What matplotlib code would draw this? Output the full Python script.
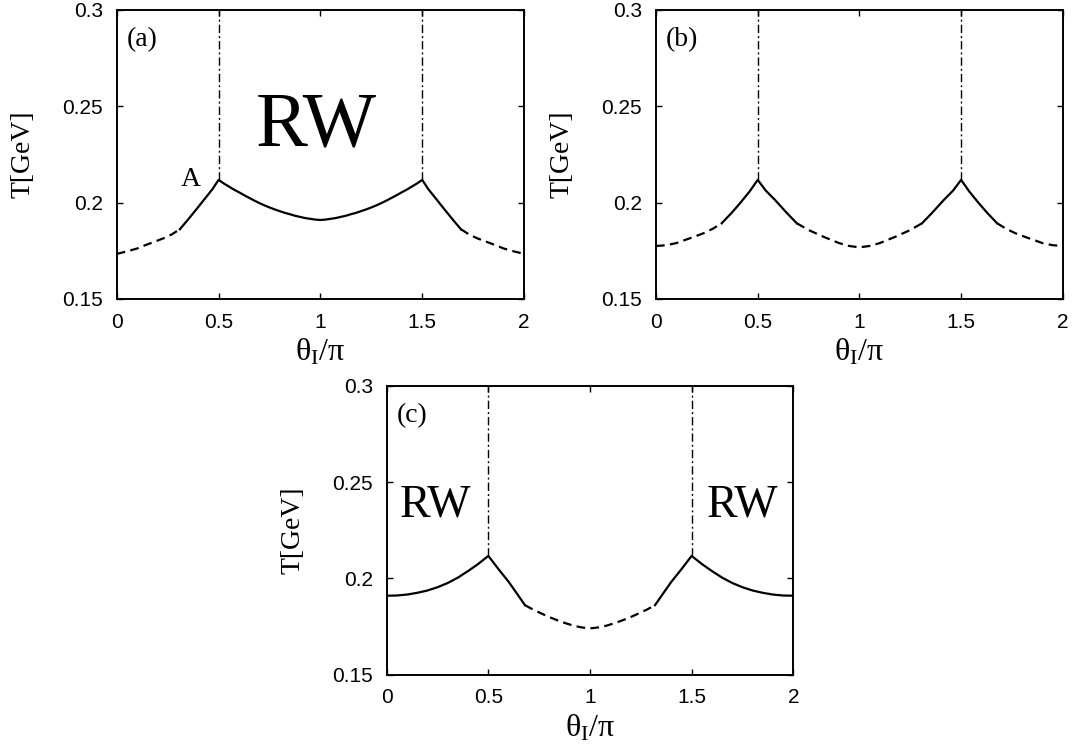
import matplotlib
matplotlib.use('Agg')
import matplotlib.pyplot as plt

plt.rcParams['mathtext.fontset'] = 'custom'
plt.rcParams['mathtext.rm'] = 'Liberation Serif'
plt.rcParams['mathtext.it'] = 'Liberation Serif'

# theta_I / pi values and T [GeV]
# panel (a)
a_th_dash1 = [0.0, 0.05, 0.10, 0.13, 0.18, 0.23, 0.27, 0.31]
a_T_dash1 = [0.1734, 0.1747, 0.1762, 0.1775, 0.1795, 0.1815, 0.1835, 0.1862]
a_th_solid = [0.31, 0.35, 0.39, 0.43, 0.47, 0.50,
              0.525, 0.55, 0.575, 0.60, 0.625, 0.65, 0.675, 0.70, 0.725, 0.75, 0.775,
              0.80, 0.825, 0.85, 0.875, 0.90, 0.925, 0.95, 0.975, 1.00,
              1.025, 1.05, 1.075, 1.10, 1.125, 1.15, 1.175, 1.20, 1.225, 1.25, 1.275,
              1.30, 1.325, 1.35, 1.375, 1.40, 1.425, 1.45, 1.475, 1.50,
              1.53, 1.57, 1.61, 1.65, 1.69]
a_T_solid = [0.1862, 0.1912, 0.1964, 0.2017, 0.2070, 0.2118,
             0.2100, 0.2084, 0.2068, 0.2054, 0.2039, 0.2025, 0.2011, 0.1998, 0.1986, 0.1975,
             0.1965, 0.1956, 0.1947, 0.1940, 0.1932, 0.1926, 0.1920, 0.1916, 0.1912, 0.1910,
             0.1912, 0.1916, 0.1920, 0.1926, 0.1932, 0.1940, 0.1947, 0.1956, 0.1965, 0.1975,
             0.1986, 0.1998, 0.2011, 0.2025, 0.2039, 0.2054, 0.2068, 0.2084, 0.2100, 0.2118,
             0.2070, 0.2017, 0.1964, 0.1912, 0.1862]
a_th_dash2 = [1.69, 1.73, 1.77, 1.82, 1.87, 1.90, 1.95, 2.0]
a_T_dash2 = [0.1862, 0.1835, 0.1815, 0.1795, 0.1775, 0.1762, 0.1747, 0.1734]

# panel (b)
b_th_dash1 = [0.0, 0.05, 0.10, 0.134, 0.18, 0.233, 0.28, 0.323]
b_T_dash1 = [0.1775, 0.1779, 0.1790, 0.1803, 0.1820, 0.1841, 0.1865, 0.1893]
b_th_solid1 = [0.323, 0.37, 0.413, 0.46, 0.50, 0.54, 0.585, 0.64, 0.692]
b_T_solid1 = [0.1893, 0.1945, 0.1997, 0.2058, 0.2118, 0.2062, 0.2014, 0.1950, 0.1893]
b_th_dash2 = [0.692, 0.75, 0.823, 0.90, 0.95, 1.00, 1.05, 1.10, 1.177, 1.25, 1.308]
b_T_dash2 = [0.1893, 0.1858, 0.1823, 0.1790, 0.1775, 0.1768, 0.1775, 0.1790, 0.1823, 0.1858, 0.1893]
b_th_solid2 = [1.308, 1.36, 1.415, 1.46, 1.50, 1.54, 1.587, 1.63, 1.677]
b_T_solid2 = [0.1893, 0.1950, 0.2014, 0.2062, 0.2118, 0.2058, 0.1997, 0.1945, 0.1893]
b_th_dash3 = [1.677, 1.72, 1.767, 1.82, 1.866, 1.90, 1.95, 2.0]
b_T_dash3 = [0.1893, 0.1865, 0.1841, 0.1820, 0.1803, 0.1790, 0.1779, 0.1775]

# panel (c)
c_th_solid1 = [0.0, 0.05, 0.10, 0.15, 0.20, 0.25, 0.30, 0.35, 0.40, 0.45, 0.50,
               0.55, 0.60, 0.64, 0.68]
c_T_solid1 = [0.1910, 0.1911, 0.1916, 0.1925, 0.1937, 0.1954, 0.1976, 0.2004, 0.2038,
              0.2075, 0.2117, 0.2048, 0.1982, 0.1922, 0.1861]
c_th_dash = [0.68, 0.72, 0.76, 0.80, 0.84, 0.88, 0.92, 0.96, 1.0,
             1.04, 1.08, 1.12, 1.16, 1.20, 1.24, 1.28, 1.32]
c_T_dash = [0.1861, 0.1838, 0.1818, 0.1799, 0.1782, 0.1767, 0.1754, 0.1745, 0.1740,
            0.1745, 0.1754, 0.1767, 0.1782, 0.1799, 0.1818, 0.1838, 0.1861]
c_th_solid2 = [1.32, 1.36, 1.40, 1.45, 1.50, 1.55, 1.60, 1.65, 1.70, 1.75, 1.80,
               1.85, 1.90, 1.95, 2.0]
c_T_solid2 = [0.1861, 0.1922, 0.1982, 0.2048, 0.2117, 0.2075, 0.2038, 0.2004, 0.1976,
              0.1954, 0.1937, 0.1925, 0.1916, 0.1911, 0.1910]

x_ticks = [0, 0.5, 1, 1.5, 2]
x_ticklabels = ['0', '0.5', '1', '1.5', '2']
y_ticks = [0.15, 0.2, 0.25, 0.3]
y_ticklabels = ['0.15', '0.2', '0.25', '0.3']
boundary_th = [0.5, 1.5]
T_peak = 0.2118

serif = 'Liberation Serif'
sans = 'Liberation Sans'

fig = plt.figure(figsize=(10.73, 7.45), dpi=100)
ax_a = fig.add_axes([0.1088, 0.5987, 0.3796, 0.3879])
ax_b = fig.add_axes([0.6114, 0.5987, 0.3791, 0.3879])
ax_c = fig.add_axes([0.3604, 0.0945, 0.3789, 0.3874])

dash = (0, (3.9, 2.4))
dashdot = (0, (6, 2.2, 1.4, 2.2))


def style_axes(ax):
    ax.set_xlim(0, 2)
    ax.set_ylim(0.15, 0.3)
    ax.set_xticks(x_ticks)
    ax.set_xticklabels(x_ticklabels, fontname=sans, fontsize=15)
    ax.set_yticks(y_ticks)
    ax.set_yticklabels(y_ticklabels, fontname=sans, fontsize=15)
    ax.tick_params(direction='in', length=4.5, width=1.0, top=True, right=True, pad=10)
    for sp in ax.spines.values():
        sp.set_linewidth(1.4)
    ax.set_xlabel(r'$\mathrm{\theta_I/\pi}$', fontsize=23)
    ax.xaxis.set_label_coords(0.5, -0.13)
    ax.set_ylabel('T[GeV]', fontname=serif, fontsize=20)
    ax.yaxis.set_label_coords(-0.2, 0.5)
    for th in boundary_th:
        ax.plot([th, th], [T_peak, 0.3], color='black', lw=1.0, linestyle=dashdot)


# (a)
ax_a.plot(a_th_dash1, a_T_dash1, color='black', lw=1.6, linestyle=dash)
ax_a.plot(a_th_solid, a_T_solid, color='black', lw=1.6)
ax_a.plot(a_th_dash2, a_T_dash2, color='black', lw=1.6, linestyle=dash)
style_axes(ax_a)
ax_a.text(0.025, 0.896, '(a)', transform=ax_a.transAxes, fontname=serif, fontsize=20,
          ha='left', va='center')
ax_a.text(0.489, 0.595, 'RW', transform=ax_a.transAxes, fontname=serif, fontsize=56,
          ha='center', va='center')
ax_a.text(0.182, 0.415, 'A', transform=ax_a.transAxes, fontname=serif, fontsize=20,
          ha='center', va='center')

# (b)
ax_b.plot(b_th_dash1, b_T_dash1, color='black', lw=1.6, linestyle=dash)
ax_b.plot(b_th_solid1, b_T_solid1, color='black', lw=1.6)
ax_b.plot(b_th_dash2, b_T_dash2, color='black', lw=1.6, linestyle=dash)
ax_b.plot(b_th_solid2, b_T_solid2, color='black', lw=1.6)
ax_b.plot(b_th_dash3, b_T_dash3, color='black', lw=1.6, linestyle=dash)
style_axes(ax_b)
ax_b.text(0.025, 0.896, '(b)', transform=ax_b.transAxes, fontname=serif, fontsize=20,
          ha='left', va='center')

# (c)
ax_c.plot(c_th_solid1, c_T_solid1, color='black', lw=1.6)
ax_c.plot(c_th_dash, c_T_dash, color='black', lw=1.6, linestyle=dash)
ax_c.plot(c_th_solid2, c_T_solid2, color='black', lw=1.6)
style_axes(ax_c)
ax_c.text(0.025, 0.896, '(c)', transform=ax_c.transAxes, fontname=serif, fontsize=20,
          ha='left', va='center')
ax_c.text(0.119, 0.588, 'RW', transform=ax_c.transAxes, fontname=serif, fontsize=33,
          ha='center', va='center')
ax_c.text(0.876, 0.588, 'RW', transform=ax_c.transAxes, fontname=serif, fontsize=33,
          ha='center', va='center')

fig.savefig('out.png', dpi=100)
